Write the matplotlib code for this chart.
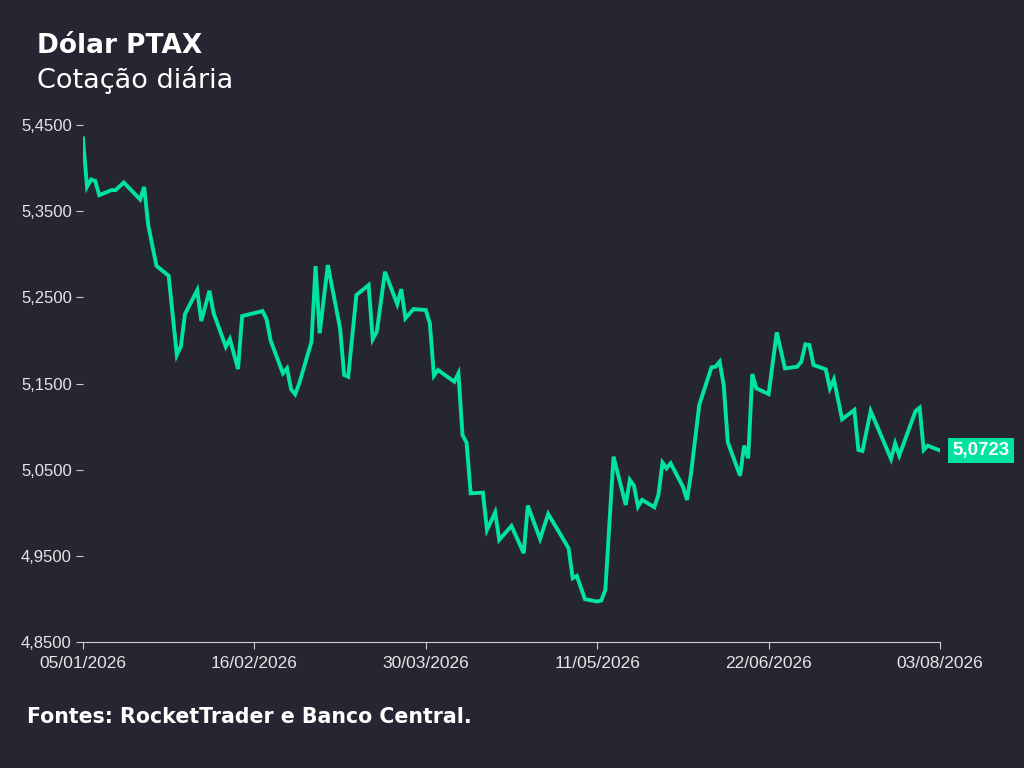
import matplotlib
matplotlib.use("Agg")
import matplotlib.pyplot as plt
import pandas as pd

start = "2026-01-05"
dias = [0,1,2,3,4,7,8,10,14,15,16,18,21,23,24,25,28,29,31,32,35,36,38,39,44,45,46,49,50,51,52,53,
        56,57,58,60,63,64,65,67,70,71,72,74,77,78,79,81,84,85,86,87,91,92,93,94,95,98,99,101,102,
        105,108,109,112,114,119,120,121,123,126,127,128,130,133,134,135,136,137,140,141,142,143,144,
        147,148,149,151,154,155,156,157,158,161,162,163,164,165,168,170,172,175,176,177,178,179,
        182,183,184,186,189,190,191,193,198,199,200,204,205,206,207,210]
valores = [5.4346,5.3784,5.3870,5.3854,5.3688,5.3746,5.3746,5.3835,5.3638,5.3784,5.3340,5.2868,5.2752,
           5.1832,5.1936,5.2307,5.2586,5.2226,5.2578,5.2322,5.1928,5.2017,5.1669,5.2284,5.2342,5.2246,
           5.1998,5.1619,5.1677,5.1434,5.1376,5.1503,5.1986,5.2864,5.2084,5.2876,5.2142,5.1600,5.1580,
           5.2528,5.2644,5.2014,5.2102,5.2798,5.2423,5.2597,5.2258,5.2365,5.2354,5.2200,5.1592,5.1658,
           5.1522,5.1619,5.0904,5.0814,5.0227,5.0234,4.9802,5.0007,4.9686,4.9848,4.9531,5.0084,4.9697,
           4.9987,4.9589,4.9241,4.9268,4.8998,4.8970,4.8982,4.9106,5.0652,5.0092,5.0382,5.0316,5.0072,
           5.0150,5.0065,5.0208,5.0582,5.0517,5.0575,5.0304,5.0150,5.0459,5.1252,5.1689,5.1696,5.1754,
           5.1484,5.0819,5.0431,5.0780,5.0633,5.1611,5.1445,5.1379,5.2095,5.1677,5.1696,5.1754,5.1956,
           5.1948,5.1716,5.1666,5.1445,5.1550,5.1086,5.1194,5.0730,5.0718,5.1182,5.0625,5.0807,5.0664,
           5.1182,5.1220,5.0730,5.0780,5.0723]
ticks_dias = [0, 42, 84, 126, 168, 210]
yticks = [4.85, 4.95, 5.05, 5.15, 5.25, 5.35, 5.45]

bg = "#252631"
green = "#00E3A1"
datas = pd.to_datetime(start) + pd.to_timedelta(dias, unit="D")
t0 = pd.to_datetime(start)

fig = plt.figure(figsize=(10.24, 7.68), dpi=100, facecolor=bg)
ax = fig.add_axes([0.081, 0.164, 0.837, 0.673], facecolor=bg)
ax.plot(datas, valores, color=green, lw=2.8, solid_joinstyle="miter")
ax.set_xlim(t0, t0 + pd.Timedelta(days=210))
ax.set_ylim(4.85, 5.45)
ax.set_yticks(yticks)
ax.set_yticklabels([f"{v:.4f}".replace(".", ",") for v in yticks])
xt = [t0 + pd.Timedelta(days=d) for d in ticks_dias]
ax.set_xticks(xt)
ax.set_xticklabels([d.strftime("%d/%m/%Y") for d in xt])
for s in ["top", "right", "left"]:
    ax.spines[s].set_visible(False)
ax.spines["bottom"].set_color("#cfcfcf")
ax.tick_params(axis="x", colors="#cfcfcf", labelcolor="#e6e6e6", labelsize=12.5, length=5, pad=5)
ax.tick_params(axis="y", colors="#cfcfcf", labelcolor="#e6e6e6", labelsize=12, length=5, pad=3)
for lbl in ax.get_xticklabels() + ax.get_yticklabels():
    lbl.set_family("Liberation Sans")

ax.annotate(f"{valores[-1]:.4f}".replace(".", ","), xy=(datas[-1], valores[-1]),
            xytext=(9, 0), textcoords="offset points", va="center", ha="left",
            color="white", fontsize=13.5, fontweight="bold", family="Liberation Sans",
            bbox=dict(boxstyle="square,pad=0.22", fc=green, ec="none"), annotation_clip=False)

fig.text(0.036, 0.94, "Dólar PTAX", color="white", fontsize=19, fontweight="bold",
         family="DejaVu Sans", va="center")
fig.text(0.036, 0.896, "Cotação diária", color="white", fontsize=19.5, family="DejaVu Sans", va="center")
fig.text(0.026, 0.067, "Fontes: RocketTrader e Banco Central.", color="white", fontsize=14.8,
         fontweight="bold", family="DejaVu Sans", va="center")

fig.savefig("out.png", dpi=100, facecolor=bg)
